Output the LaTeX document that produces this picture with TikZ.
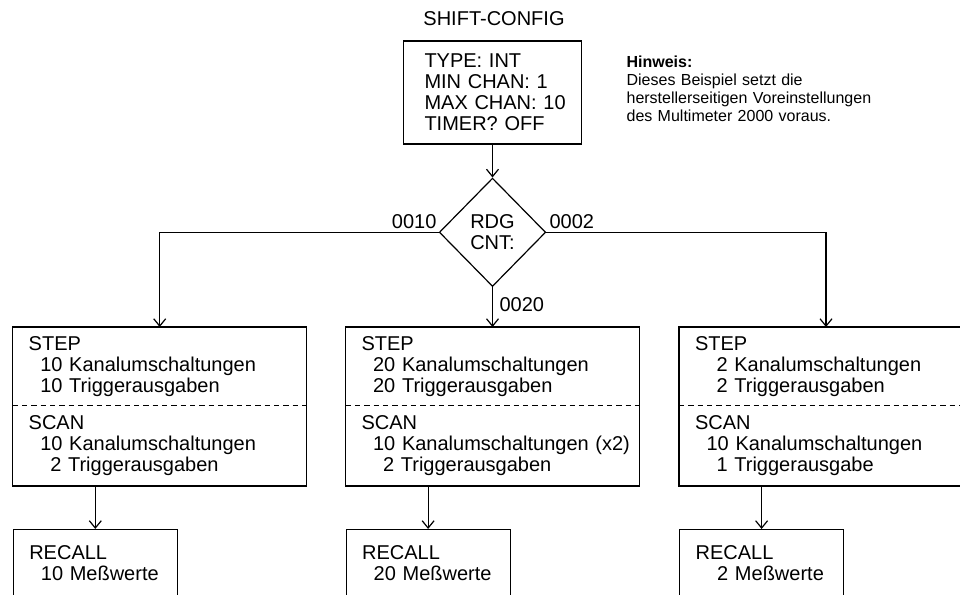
\documentclass[tikz,border=0pt]{standalone}
\usepackage{fontspec}
\setmainfont{Liberation Sans}
\usetikzlibrary{shapes.geometric,arrows.meta,positioning}
\hfuzz=8pt
\newcommand{\ia}{\hspace*{8.7pt}}
\newcommand{\ib}{\hspace*{16.2pt}}

\begin{document}
\begin{tikzpicture}[
	x=0.75pt,y=-0.75pt,
	line width=0.9pt,
	every node/.style={
	  font=\fontsize{15pt}{15.75pt}\selectfont
	},
	cbox/.style={
	  draw,
	  minimum width=133.5pt,
	  minimum height=77.25pt,
	  inner sep=0pt,
	  text width=133.5pt,
	  align=left,
	  execute at begin node={\leftskip=15.75pt}
	},
	dia/.style={
	  draw,
	  diamond,
	  minimum width=79.8pt,
	  minimum height=81.3pt,
	  inner sep=0pt,
	  align=center
	},
	part/.style={
	  minimum width=220.5pt,
	  inner sep=0pt,
	  outer sep=0pt,
	  text width=220.5pt,
	  align=left,
	  execute at begin node={\leftskip=12pt}
	},
	rbox/.style={
	  draw,
	  minimum width=123pt,
	  minimum height=51pt,
	  inner sep=0pt,
	  text width=123pt,
	  align=left,
	  execute at begin node={\leftskip=12pt}
	},
	lbl/.style={inner sep=0pt},
	arr/.style={-{Straight Barb[length=5.5pt,width=9pt]}}
]
\useasboundingbox (0,0) rectangle (960,594);
\clip (0,0) rectangle (960,594);

% title and note
\node[lbl,anchor=base] at (494,25) (title) {SHIFT-CONFIG};
\node[lbl,anchor=base west,text width=190pt,align=left,
  font=\fontsize{12pt}{13.7pt}\selectfont] at (626,67)
  (note) {\textbf{Hinweis:}\\Dieses Beispiel setzt die\\herstellerseitigen Voreinstellungen\\des Multimeter 2000 voraus.};

% config and decision
\node[cbox] at (492.5,92.5)
  (cfg) {TYPE: INT\\MIN CHAN: 1\\MAX CHAN: 10\\TIMER? OFF};
\node[dia] at (492.5,232.3)
  (rdg) {RDG\\CNT:};

% left column
\node[part,minimum height=59pt] at (159.7,366.35)
  (stepL) {STEP\\\ia 10 Kanalumschaltungen\\\ia 10 Triggerausgaben};
\node[part,minimum height=60.2pt,below=0pt of stepL]
  (scanL) {SCAN\\\ia 10 Kanalumschaltungen\\\ib 2 Triggerausgaben};
\node[rbox,anchor=north west] at ([yshift=-32.25pt]scanL.south west)
  (recL) {RECALL\\\ia 10 Meßwerte};

% middle column
\node[part,minimum height=59pt] at (492.5,366.35)
  (stepM) {STEP\\\ia 20 Kanalumschaltungen\\\ia 20 Triggerausgaben};
\node[part,minimum height=60.2pt,below=0pt of stepM]
  (scanM) {SCAN\\\ia 10 Kanalumschaltungen (x2)\\\ib 2 Triggerausgaben};
\node[rbox,anchor=north west] at ([yshift=-32.25pt]scanM.south west)
  (recM) {RECALL\\\ia 20 Meßwerte};

% right column
\node[part,minimum height=59pt] at (826,366.35)
  (stepR) {STEP\\\ib 2 Kanalumschaltungen\\\ib 2 Triggerausgaben};
\node[part,minimum height=60.2pt,below=0pt of stepR]
  (scanR) {SCAN\\\ia 10 Kanalumschaltungen\\\ib 1 Triggerausgabe};
\node[rbox,anchor=north west] at ([yshift=-32.25pt]scanR.south west)
  (recR) {RECALL\\\ib 2 Meßwerte};

% frames with dashed split
\draw (stepL.north west) rectangle (scanL.south east);
\draw (stepM.north west) rectangle (scanM.south east);
\draw (stepR.north west) rectangle (scanR.south east);
\draw[dash pattern=on 4pt off 3pt,line width=0.7pt] (stepL.south west) -- (stepL.south east);
\draw[dash pattern=on 4pt off 3pt,line width=0.7pt] (stepM.south west) -- (stepM.south east);
\draw[dash pattern=on 4pt off 3pt,line width=0.7pt] (stepR.south west) -- (stepR.south east);

% branch labels
\node[lbl,anchor=base east] at (437,228) (c10) {0010};
\node[lbl,anchor=base west] at (549,228) (c02) {0002};
\node[lbl,anchor=base west] at (499,311) (c20) {0020};

\draw[arr] (cfg.south) -- (rdg.north);
\draw[arr] (rdg.west) -| (stepL.north);
\draw[arr] (rdg.south) -- (stepM.north);
\draw[arr] (rdg.east) -| (stepR.north);
\draw[arr] (scanL.south -| recL.north) -- (recL.north);
\draw[arr] (scanM.south -| recM.north) -- (recM.north);
\draw[arr] (scanR.south -| recR.north) -- (recR.north);

\end{tikzpicture}
\end{document}
